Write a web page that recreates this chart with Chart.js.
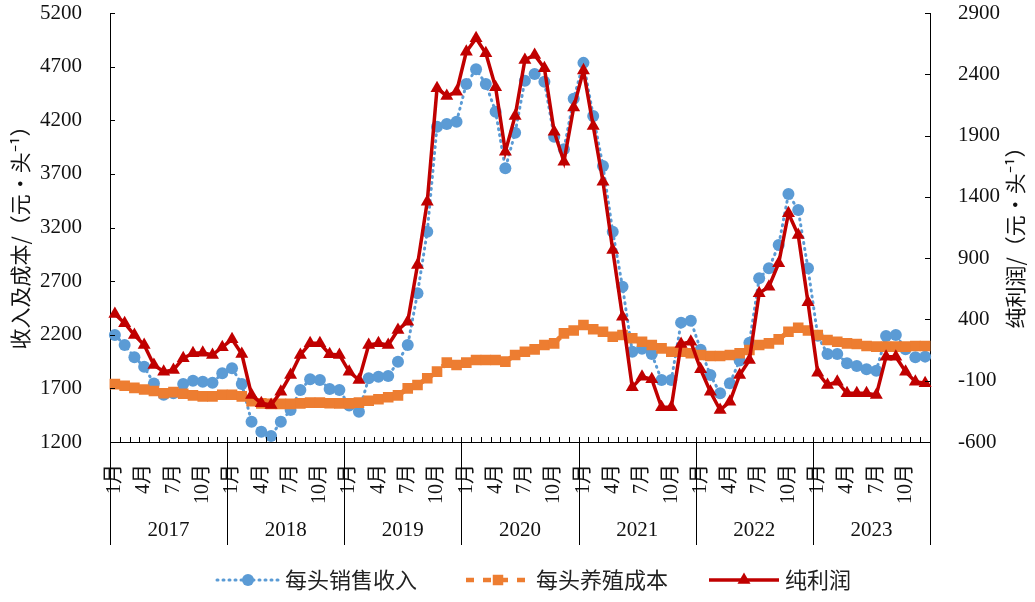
<!DOCTYPE html>
<html>
<head>
<meta charset="utf-8">
<script src="https://cdn.jsdelivr.net/npm/chart.js@4.4.1/dist/chart.umd.min.js"></script>
<style>
  body { margin: 0; background: #fff; }
  #wrap { width: 1035px; height: 602px; }
</style>
</head>
<body>
<div id="wrap"><canvas id="myChart"></canvas></div>
<script>
const years = ['2017', '2018', '2019', '2020', '2021', '2022', '2023'];
const months = ['1月','2月','3月','4月','5月','6月','7月','8月','9月','10月','11月','12月'];
const shownMonths = ['1月', '4月', '7月', '10月'];

// 每头销售收入 (left axis)
const revenue = [
  2198, 2104, 1990, 1902, 1745, 1640, 1655, 1741, 1772, 1762, 1753, 1840,
  1887, 1741, 1389, 1296, 1256, 1389, 1498, 1685, 1784, 1778, 1694, 1685,
  1540, 1483, 1794, 1809, 1815, 1949, 2104, 2587, 3161, 4140, 4165, 4187,
  4538, 4675, 4538, 4280, 3752, 4084, 4569, 4631, 4559, 4047, 3930, 4400,
  4735, 4240, 3773, 3161, 2648, 2042, 2070, 2020, 1778, 1778, 2313, 2331,
  2060, 1825, 1654, 1747, 1960, 2126, 2726, 2820, 3037, 3512, 3363, 2820,
  2190, 2020, 2020, 1934, 1909, 1878, 1865, 2188, 2198, 2065, 1990, 1996
];
// 每头养殖成本 (left axis)
const cost = [
  1740, 1725, 1705, 1690, 1675, 1655, 1665, 1650, 1635, 1625, 1625, 1640,
  1640, 1625, 1580, 1560, 1555, 1555, 1555, 1560, 1567, 1567, 1561, 1560,
  1560, 1567, 1585, 1598, 1617, 1635, 1700, 1731, 1794, 1856, 1940, 1918,
  1940, 1965, 1965, 1965, 1949, 2011, 2042, 2064, 2104, 2120, 2213, 2240,
  2291, 2251, 2228, 2182, 2198, 2167, 2135, 2104, 2073, 2042, 2042, 2027,
  2011, 2002, 2002, 2011, 2027, 2058, 2104, 2120, 2157, 2228, 2265, 2240,
  2198, 2151, 2135, 2120, 2114, 2095, 2089, 2089, 2089, 2089, 2095, 2095
];
// 纯利润 (right axis)
const profit = [
  444, 369, 273, 191, 28, -26, -12, 83, 124, 129, 110, 173,
  238, 118, -216, -284, -298, -190, -53, 110, 205, 205, 116, 110,
  -26, -94, 191, 205, 191, 314, 382, 844, 1361, 2286, 2223, 2258,
  2584, 2693, 2571, 2294, 1769, 2060, 2517, 2558, 2449, 1932, 1687, 2130,
  2430, 1978, 1524, 967, 422, -154, -67, -88, -317, -317, 200, 218,
  -7, -190, -339, -271, -53, 69, 613, 667, 858, 1266, 1089, 540,
  -35, -135, -108, -203, -203, -203, -217, 96, 96, -26, -108, -121
];

const leftTicks = { min: 1200, max: 5200, step: 500 };
const rightTicks = { min: -600, max: 2900, step: 500 };

const labels = [];
years.forEach(y => months.forEach(m => labels.push(m)));

const blue = '#5B9BD5', orange = '#ED7D31', red = '#C00000';
const serif = '"Liberation Serif", "Noto Sans CJK SC", serif';
const cjk = '"Noto Sans CJK SC", sans-serif';

const legendItems = [
  { text: '每头销售收入', color: blue, x0: 217, x1: 279, style: 'circle', dash: [1, 5], width: 3, r: 6 },
  { text: '每头养殖成本', color: orange, x0: 466, x1: 530, style: 'rect', dash: [8, 9], width: 4.5, r: 7 },
  { text: '纯利润', color: red, x0: 709, x1: 779, style: 'triangle', dash: [], width: 3.5, r: 7.5 }
];

const extras = {
  id: 'extras',
  afterDraw(chart) {
    const ctx = chart.ctx, a = chart.chartArea;
    const xs = chart.scales.x, yL = chart.scales.y, yR = chart.scales.y1;
    const step = xs.getPixelForValue(1) - xs.getPixelForValue(0);
    const start = xs.getPixelForValue(0) - step / 2;
    ctx.save();
    ctx.strokeStyle = '#000';
    ctx.lineWidth = 1;
    ctx.beginPath();
    for (let i = 0; i <= labels.length; i++) {
      const x = Math.round(start + i * step) + 0.5;
      if (i % 12 === 0) {
        ctx.moveTo(x, a.bottom - 5);
        ctx.lineTo(x, a.bottom + 103);
      } else {
        ctx.moveTo(x, a.bottom - 5);
        ctx.lineTo(x, a.bottom);
      }
    }
    yL.ticks.forEach(t => {
      const y = Math.round(yL.getPixelForValue(t.value)) + 0.5;
      ctx.moveTo(a.left, y); ctx.lineTo(a.left + 5, y);
    });
    yR.ticks.forEach(t => {
      const y = Math.round(yR.getPixelForValue(t.value)) + 0.5;
      ctx.moveTo(a.right - 5, y); ctx.lineTo(a.right, y);
    });
    ctx.stroke();

    // year labels
    ctx.fillStyle = '#111';
    ctx.font = '21px ' + serif;
    ctx.textAlign = 'center';
    ctx.textBaseline = 'middle';
    years.forEach((y, k) => {
      const cx = start + (k * 12 + 6) * step;
      ctx.fillText(y, cx, a.bottom + 88);
    });

    // axis titles
    ctx.font = '21px ' + cjk;
    const cy = (a.top + a.bottom) / 2 + 5;
    ctx.save();
    ctx.translate(20, cy);
    ctx.rotate(-Math.PI / 2);
    ctx.fillText('收入及成本/（元·头⁻¹）', 0, 0);
    ctx.restore();
    ctx.save();
    ctx.translate(1015, cy);
    ctx.rotate(-Math.PI / 2);
    ctx.fillText('纯利润/（元·头⁻¹）', 0, 0);
    ctx.restore();

    // legend
    const ly = 580;
    legendItems.forEach(it => {
      ctx.save();
      ctx.strokeStyle = it.color;
      ctx.fillStyle = it.color;
      ctx.lineWidth = it.width;
      ctx.lineCap = it.style === 'circle' ? 'round' : 'butt';
      ctx.setLineDash(it.dash);
      ctx.beginPath();
      ctx.moveTo(it.x0, ly); ctx.lineTo(it.x1, ly);
      ctx.stroke();
      ctx.setLineDash([]);
      const mx = (it.x0 + it.x1) / 2;
      ctx.beginPath();
      if (it.style === 'circle') {
        ctx.arc(mx, ly, it.r, 0, Math.PI * 2);
      } else if (it.style === 'rect') {
        ctx.rect(mx - it.r * 0.75, ly - it.r * 0.75, it.r * 1.5, it.r * 1.5);
      } else {
        ctx.moveTo(mx, ly - it.r);
        ctx.lineTo(mx + it.r * 0.87, ly + it.r * 0.5);
        ctx.lineTo(mx - it.r * 0.87, ly + it.r * 0.5);
        ctx.closePath();
      }
      ctx.fill();
      ctx.fillStyle = '#222';
      ctx.font = '22px ' + cjk;
      ctx.textAlign = 'left';
      ctx.textBaseline = 'middle';
      ctx.fillText(it.text, it.x1 + 6, ly);
      ctx.restore();
    });
    ctx.restore();
  }
};

const mydata = {
  labels: labels,
  datasets: [
    {
      label: '每头销售收入',
      data: revenue,
      yAxisID: 'y',
      borderColor: blue,
      backgroundColor: blue,
      borderWidth: 3,
      borderDash: [1, 5],
      borderCapStyle: 'round',
      pointStyle: 'circle',
      pointRadius: 6,
      pointBorderWidth: 0,
      order: 3
    },
    {
      label: '每头养殖成本',
      data: cost,
      yAxisID: 'y',
      borderColor: orange,
      backgroundColor: orange,
      borderWidth: 5,
      borderDash: [7, 3],
      pointStyle: 'rect',
      pointRadius: 7.5,
      pointBorderWidth: 0,
      order: 2
    },
    {
      label: '纯利润',
      data: profit,
      yAxisID: 'y1',
      borderColor: red,
      backgroundColor: red,
      borderWidth: 3.5,
      pointStyle: 'triangle',
      pointRadius: 7.5,
      pointBorderWidth: 0,
      order: 1
    }
  ]
};

const fixPad = s => { s.paddingTop = 13; s.paddingBottom = 0; };

const myconfig = {
  type: 'line',
  data: mydata,
  plugins: [extras],
  options: {
    responsive: true,
    maintainAspectRatio: false,
    animation: false,
    layout: { padding: 0 },
    plugins: { legend: { display: false }, tooltip: { enabled: false } },
    elements: { line: { tension: 0 } },
    scales: {
      x: {
        type: 'category',
        offset: true,
        grid: { display: false },
        border: { display: true, color: '#000', width: 1 },
        ticks: {
          autoSkip: false,
          maxRotation: 90,
          minRotation: 90,
          padding: 14,
          color: '#111',
          font: { family: serif, size: 20 },
          callback: function (v, i) {
            return shownMonths.includes(labels[i]) ? labels[i] : '';
          }
        },
        afterFit: s => { s.height = 160; s.paddingLeft = 0; s.paddingRight = 0; }
      },
      y: {
        position: 'left',
        min: leftTicks.min,
        max: leftTicks.max,
        grid: { display: false },
        border: { display: true, color: '#000', width: 1 },
        ticks: { stepSize: leftTicks.step, padding: 20, color: '#111', font: { family: serif, size: 21 }, callback: v => String(v) },
        afterFit: s => { s.width = 110; fixPad(s); }
      },
      y1: {
        position: 'right',
        min: rightTicks.min,
        max: rightTicks.max,
        grid: { display: false },
        border: { display: true, color: '#000', width: 1 },
        ticks: { stepSize: rightTicks.step, padding: 20, color: '#111', font: { family: serif, size: 21 }, callback: v => String(v) },
        afterFit: s => { s.width = 105; fixPad(s); }
      }
    }
  }
};

const myChart = new Chart(document.getElementById('myChart'), myconfig);
</script>
</body>
</html>
